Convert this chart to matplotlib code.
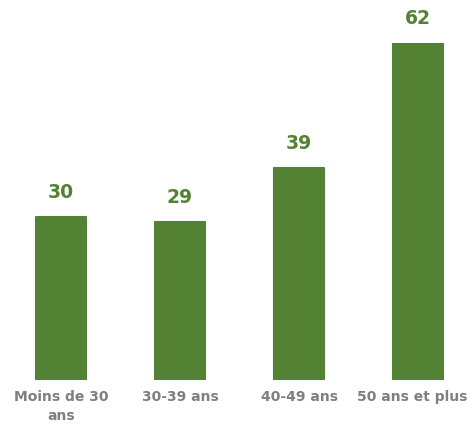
import matplotlib
matplotlib.use("Agg")
import matplotlib.pyplot as plt
import matplotlib.transforms as mtransforms

categories = ["Moins de 30\nans", "30-39 ans", "40-49 ans", "50 ans et plus"]
values = [30, 29, 39, 62]

green = "#548235"
grey = "#7f7f7f"

fig = plt.figure(figsize=(4.72, 4.26), dpi=100)
ax = fig.add_axes([239.5/472 - 238/472, 46/426, 476/472, 337/426])
x = list(range(len(values)))
bars = ax.bar(x, values, width=0.42, color=green, edgecolor=green, linewidth=1.5, joinstyle="round")
ax.set_xlim(-0.5, 3.5)
ax.set_ylim(0, 62)
for xi, v in zip(x, values):
    ax.annotate(str(v), (xi, v), xytext=(0, 11), textcoords="offset points",
                ha="center", va="bottom", fontsize=13.5, fontweight="bold", color=green,
                annotation_clip=False)
ax.set_xticks(x)
ax.set_xticklabels(categories, fontsize=10, fontweight="bold", color=grey, linespacing=1.45)
ax.tick_params(axis="x", length=0, pad=7)
last = ax.get_xticklabels()[-1]
last.set_transform(last.get_transform() + mtransforms.ScaledTranslation(-6/100, 0, fig.dpi_scale_trans))
ax.set_yticks([])
for s in ax.spines.values():
    s.set_visible(False)
fig.savefig("out.png", dpi=100)
